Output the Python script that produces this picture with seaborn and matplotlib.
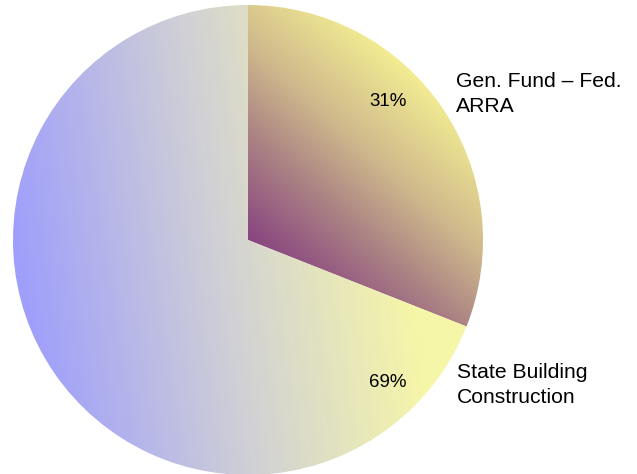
import numpy as np
import matplotlib
matplotlib.use("Agg")
import matplotlib.pyplot as plt
from matplotlib.colors import LinearSegmentedColormap
import seaborn as sns

# Funding sources and their shares (percent)
sources = ["Gen. Fund – Fed.\nARRA", "State Building\nConstruction"]
shares = [31, 69]

# Gradient colour stops for each wedge (RGB 0-255)
grad_stops = [
    [(0.0, (136, 68, 128)), (0.35, (172, 132, 132)), (0.62, (206, 184, 140)),
     (1.0, (242, 236, 146))],
    [(0.0, (158, 158, 252)), (0.55, (210, 210, 212)), (1.0, (246, 246, 168))],
]
# Gradient direction (degrees) and start/end projections, in radius units
grad_angle = [48, 9]
grad_span = [(0.0, 1.0), (-1.0, 0.65)]

sns.set_theme(style="white")
plt.rcParams["font.family"] = ["Liberation Sans", "DejaVu Sans"]

W, H = 637, 474
fig = plt.figure(figsize=(W / 100, H / 100), dpi=100)
ax = fig.add_axes([0, 0, 1, 1])
ax.set_axis_off()

wedges, _ = ax.pie(shares, startangle=90, counterclock=False, radius=1.0,
                   colors=["none", "none"], wedgeprops=dict(linewidth=0))

# fill every wedge with its own linear gradient, clipped to the wedge shape
n = 700
xs = np.linspace(-1.02, 1.02, n)
X, Y = np.meshgrid(xs, xs)
for w, stops, ang, (p0, p1) in zip(wedges, grad_stops, grad_angle, grad_span):
    a = np.deg2rad(ang)
    t = np.clip((X * np.cos(a) + Y * np.sin(a) - p0) / (p1 - p0), 0, 1)
    cmap = LinearSegmentedColormap.from_list(
        "g", [(s, tuple(c / 255 for c in col)) for s, col in stops])
    im = ax.imshow(t, cmap=cmap, vmin=0, vmax=1, origin="lower",
                   extent=(-1.02, 1.02, -1.02, 1.02), interpolation="bilinear",
                   zorder=1)
    im.set_clip_path(w)

# frame: pie centre at pixel (248, 240), radius 235 px
r_px = 235.0
cx, cy = 248.0, 240.0
ax.set_xlim(-cx / r_px, (W - cx) / r_px)
ax.set_ylim(-(H - cy) / r_px, cy / r_px)
ax.set_aspect("equal")


def put(px, py, s, **kw):
    fig.text(px / W, 1 - py / H, s, color="black", va="baseline", **kw)


# percentage labels inside the wedges
pct_pos = [(388, 106), (388, 387)]
for v, (px, py) in zip(shares, pct_pos):
    put(px, py, f"{v:.0f}%", ha="center", fontsize=13.5)

# category labels beside the pie, one baseline per line
lab_pos = [(456, 87), (457, 378)]
for s, (px, py) in zip(sources, lab_pos):
    for i, line in enumerate(s.split("\n")):
        put(px, py + 25 * i, line, ha="left", fontsize=15.2)

fig.savefig("out.png", dpi=100, facecolor="white")
